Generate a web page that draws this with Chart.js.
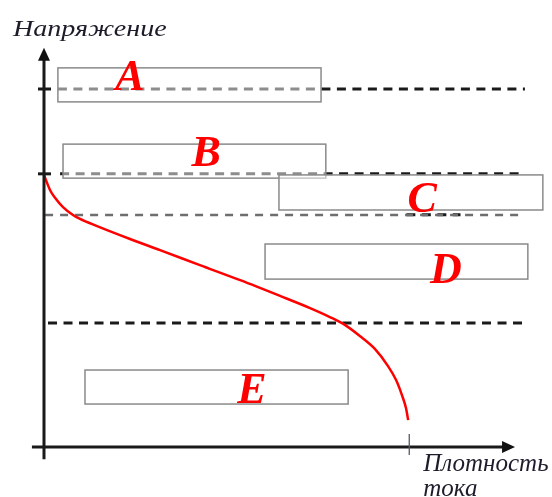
<!DOCTYPE html>
<html><head><meta charset="utf-8">
<script src="https://cdn.jsdelivr.net/npm/chart.js@4"></script>
<style>html,body{margin:0;padding:0;background:#fff}canvas{display:block}</style>
</head><body>
<canvas id="c" width="552" height="497"></canvas>
<script>
// Polarization curve: current density (x) vs voltage (y), arbitrary units
const curveX = [0, 1.64, 3.01, 5.19, 7.92, 9.84, 14.5, 23.5, 31.7, 42.6, 53.6, 64.5, 72.7, 78.1, 82.2, 86.3, 90.4, 94.0, 96.2, 97.8, 98.9, 99.5];
const curveY = [76.0, 71.8, 69.6, 67.0, 64.8, 63.7, 61.7, 58.1, 55.0, 50.8, 46.6, 42.2, 38.8, 36.3, 34.1, 31.0, 27.4, 22.6, 18.7, 14.5, 10.9, 7.5];

// Voltage levels (dashed lines): level, start, end, dark or grey
const levelValues = [100, 76.3, 64.8, 64.9, 34.6];
const levelStart  = [3.8, 4.4, 0.3, 99.0, 1.1];
const levelEnd    = [131.4, 131.4, 131.4, 113.8, 131.4];
const levelDark   = [true, true, false, true, true];

// Zones: labels and boxes [x1, x2, yTop, yBottom]
const zoneLabels = ['A', 'B', 'C', 'D', 'E'];
const zoneBoxes = [
  [3.8, 75.7, 105.9, 96.4],
  [5.2, 77.0, 84.6, 75.1],
  [64.2, 136.3, 76.0, 66.2],
  [60.4, 132.2, 56.7, 46.9],
  [11.2, 83.1, 21.5, 12.0]
];
const zoneLabelX = [23.5, 44.3, 103.3, 109.8, 56.8];
const zoneLabelY = [99.6, 78.5, 65.6, 45.8, 12.3];

const yAxisTicks = [100, 76.3];
const xAxisTicks = [99.8];
const yTitle = 'Напряжение';
const xTitle = ['Плотность', 'тока'];

const datasets = [];
levelValues.forEach((v, i) => {
  datasets.push({
    data: [{x: levelStart[i], y: v}, {x: levelEnd[i], y: v}],
    borderColor: levelDark[i] ? '#1a1a1a' : '#6e6e6e',
    borderWidth: levelDark[i] ? 3 : 2.6,
    borderDash: levelDark[i] ? [9, 6.5] : [8, 7],
    pointRadius: 0, fill: false, order: 2
  });
});
datasets.push({
  data: curveX.map((x, i) => ({x, y: curveY[i]})),
  borderColor: '#ff0000', borderWidth: 2.5,
  cubicInterpolationMode: 'monotone', pointRadius: 0, fill: false, order: 1
});

const drawPlugin = {
  id: 'draw',
  afterDatasetsDraw(chart) {
    const ctx = chart.ctx, xs = chart.scales.x, ys = chart.scales.y;
    const X = v => xs.getPixelForValue(v), Y = v => ys.getPixelForValue(v);
    ctx.save();
    // zone boxes
    zoneBoxes.forEach(b => {
      const x1 = X(b[0]), x2 = X(b[1]), y1 = Y(b[2]), y2 = Y(b[3]);
      ctx.fillStyle = 'rgba(255,255,255,0.5)';
      ctx.fillRect(x1, y1, x2 - x1, y2 - y1);
      ctx.strokeStyle = '#8a8a8a'; ctx.lineWidth = 1.5;
      ctx.strokeRect(x1, y1, x2 - x1, y2 - y1);
    });
    // axes
    const ox = X(0), oy = Y(0);
    ctx.strokeStyle = '#1a1a1a'; ctx.fillStyle = '#111'; ctx.lineWidth = 3;
    ctx.beginPath();
    ctx.moveTo(ox, Y(-3.4)); ctx.lineTo(ox, Y(111.5) + 10);
    ctx.moveTo(X(-3.3), oy); ctx.lineTo(X(128.7) - 10, oy);
    ctx.stroke();
    // arrows
    ctx.beginPath();
    ctx.moveTo(ox, Y(111.5)); ctx.lineTo(ox - 6, Y(111.5) + 13); ctx.lineTo(ox + 6, Y(111.5) + 13); ctx.closePath();
    ctx.fill();
    ctx.beginPath();
    ctx.moveTo(X(128.7), oy); ctx.lineTo(X(128.7) - 13, oy - 6); ctx.lineTo(X(128.7) - 13, oy + 6); ctx.closePath();
    ctx.fill();
    // y ticks
    ctx.lineWidth = 3;
    yAxisTicks.forEach(v => {
      ctx.beginPath(); ctx.moveTo(ox - 6, Y(v)); ctx.lineTo(ox + 7, Y(v)); ctx.stroke();
    });
    // x tick
    ctx.strokeStyle = '#555a70'; ctx.lineWidth = 1.3;
    xAxisTicks.forEach(v => {
      ctx.beginPath(); ctx.moveTo(X(v), oy - 13); ctx.lineTo(X(v), oy + 8); ctx.stroke();
    });
    // zone labels
    ctx.fillStyle = '#ff0000';
    ctx.font = 'italic bold 44px "Liberation Serif", "DejaVu Serif", serif';
    ctx.textAlign = 'center'; ctx.textBaseline = 'alphabetic';
    zoneLabels.forEach((t, i) => ctx.fillText(t, X(zoneLabelX[i]), Y(zoneLabelY[i])));
    // axis titles
    ctx.fillStyle = '#1c1c2a';
    ctx.textAlign = 'left';
    ctx.font = 'italic 24px "Liberation Serif", "DejaVu Serif", serif';
    ctx.save();
    ctx.translate(ox - 31, 36);
    ctx.scale(1.17, 1);
    ctx.fillText(yTitle, 0, 0);
    ctx.restore();
    ctx.font = 'italic 25px "Liberation Serif", "DejaVu Serif", serif';
    ctx.fillText(xTitle[0], X(xAxisTicks[0]) + 14, oy + 24);
    ctx.fillText(xTitle[1], X(xAxisTicks[0]) + 14, oy + 49);
    ctx.restore();
  }
};

new Chart(document.getElementById('c'), {
  type: 'line',
  data: { datasets },
  options: {
    responsive: false, animation: false,
    layout: { padding: 0 },
    plugins: { legend: { display: false }, tooltip: { enabled: false } },
    scales: {
      x: { type: 'linear', min: -12.02, max: 138.8, display: false },
      y: { type: 'linear', min: -13.97, max: 124.86, display: false }
    }
  },
  plugins: [drawPlugin]
});
</script>
</body></html>
